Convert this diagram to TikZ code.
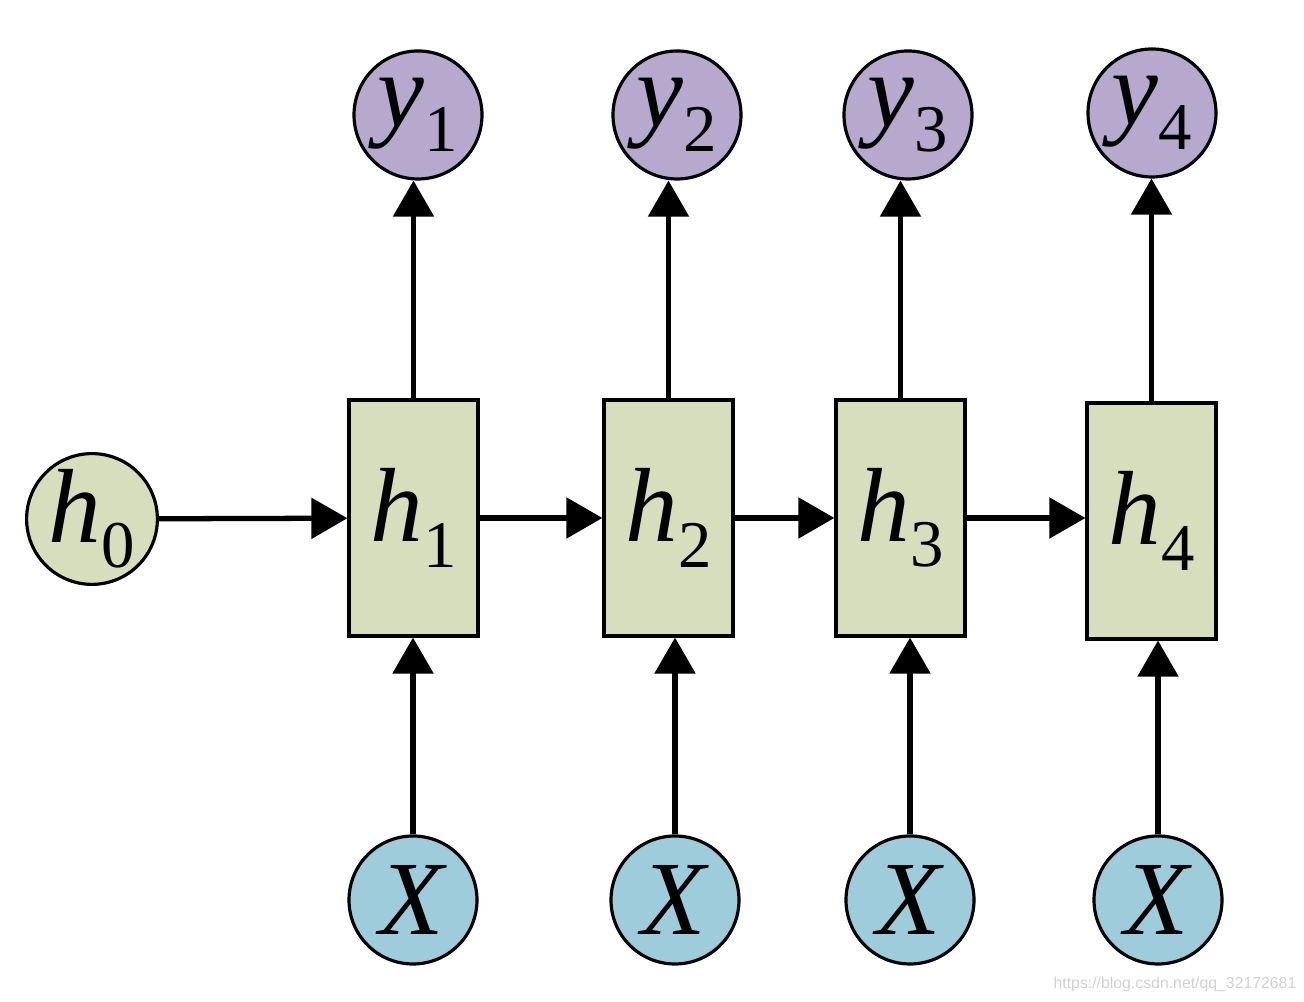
\documentclass[tikz,border=0pt]{standalone}
\usepackage{fontspec}
\setmainfont{Liberation Serif}
\newfontfamily\wmfont{Liberation Sans}
\usepackage{xcolor}
\usetikzlibrary{arrows.meta, positioning}
\definecolor{hgreen}{RGB}{214,222,190}
\definecolor{ypurple}{RGB}{183,168,206}
\definecolor{xblue}{RGB}{159,204,219}
\newcommand{\lbl}[2]{\textit{#1}\raisebox{-0.24em}{\fontsize{19}{19}\selectfont #2}}
\tikzstyle{hidden} = [rectangle, minimum width=1.29cm, minimum height=2.36cm, inner sep=0pt, draw=black, line width=0.9pt, fill=hgreen, font=\fontsize{30}{30}\selectfont]
\tikzstyle{state} = [circle, minimum size=1.28cm, inner sep=0pt, draw=black, line width=0.9pt, fill=hgreen, font=\fontsize{30}{30}\selectfont]
\tikzstyle{output} = [state, fill=ypurple]
\tikzstyle{input} = [state, fill=xblue]
\tikzstyle{arrow} = [line width=1.5pt, -{Triangle[length=0.36cm, width=0.4cm]}]

\begin{document}
\begin{tikzpicture}
    \useasboundingbox (0,0) rectangle (13.04,10.02);

    % hidden states
    \node (h0) [state] at (0.92,4.83) {\lbl{h}{0}};
    \node (h1) [hidden] at (4.135,4.84) {\lbl{h}{1}};
    \node (h2) [hidden] at (6.685,4.84) {\lbl{h}{2}};
    \node (h3) [hidden] at (9.005,4.84) {\lbl{h}{3}};
    \node (h4) [hidden] at (11.515,4.81) {\lbl{h}{4}};

    % outputs
    \node (y1) [output] at (4.18,8.87) {\lbl{y}{1}};
    \node (y2) [output] at (6.77,8.87) {\lbl{y}{2}};
    \node (y3) [output] at (9.08,8.87) {\lbl{y}{3}};
    \node (y4) [output] at (11.52,8.89) {\lbl{y}{4}};

    % inputs
    \node (x1) [input] at (4.13,1.02) {\textit{X}};
    \node (x2) [input] at (6.75,1.02) {\textit{X}};
    \node (x3) [input] at (9.10,1.02) {\textit{X}};
    \node (x4) [input] at (11.58,1.02) {\textit{X}};

    % recurrent arrows
    \draw [arrow] (h0) -- (h1);
    \draw [arrow] (h1) -- (h2);
    \draw [arrow] (h2) -- (h3);
    \draw [arrow] (h3) -- (h3 -| h4.west);

    % output arrows
    \draw [arrow] (h1.north) -- (h1.north |- y1.south);
    \draw [arrow] (h2.north) -- (h2.north |- y2.south);
    \draw [arrow] (h3.north) -- (h3.north |- y3.south);
    \draw [arrow] (h4.north) -- (h4.north |- y4.south);

    % input arrows
    \draw [arrow] (x1.north) -- (x1.north |- h1.south);
    \draw [arrow] (x2.north) -- (x2.north |- h2.south);
    \draw [arrow] (x3.north) -- (x3.north |- h3.south);
    \draw [arrow] (x4.north) -- (x4.north |- h4.south);

    % watermark
    \node (wm) [text=black!18, inner sep=0pt, font=\wmfont\fontsize{4.5}{5}\selectfont] at (11.75,0.18) {https://blog.csdn.net/qq\_32172681};

\end{tikzpicture}
\end{document}
